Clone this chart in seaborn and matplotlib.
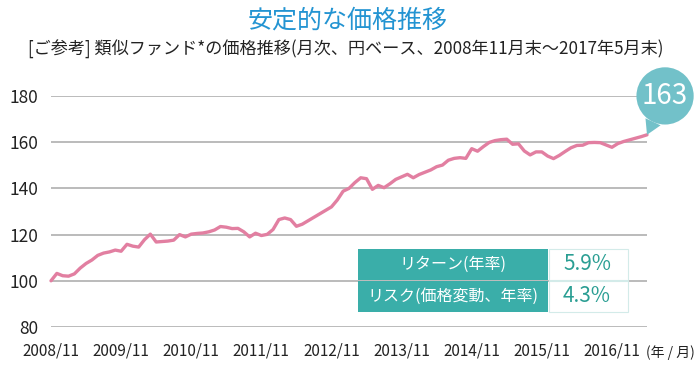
import matplotlib
matplotlib.use("Agg")
import matplotlib.pyplot as plt
from matplotlib.patches import Rectangle
import seaborn as sns

# 月次の価格推移(2008/11 = 100)
months = list(range(103))
values = [
    100, 103.2, 102.2, 102, 103, 105.5, 107.5, 109, 111, 112,
    112.5, 113.3, 112.8, 115.8, 115, 114.6, 117.8, 120.2, 116.8, 117,
    117.2, 117.6, 120, 119, 120.2, 120.5, 120.7, 121.2, 122, 123.5,
    123.2, 122.6, 122.7, 121.2, 119, 120.6, 119.6, 120.1, 122.2, 126.5,
    127.2, 126.5, 123.6, 124.5, 126, 127.5, 129, 130.5, 132, 135,
    138.8, 140, 142.5, 144.6, 144.2, 139.6, 141.3, 140.3, 142, 143.9,
    145, 146.1, 144.6, 146, 147, 148, 149.4, 150.1, 152.2, 153,
    153.3, 153, 157.2, 156.1, 158.1, 159.9, 160.7, 161.1, 161.3, 159.1,
    159.3, 156.2, 154.5, 155.8, 155.8, 154, 152.9, 154.3, 156, 157.6,
    158.6, 158.7, 159.8, 159.9, 159.8, 158.8, 157.8, 159.4, 160.3, 161,
    161.7, 162.4, 163.2,
]
tick_months = [0, 12, 24, 36, 48, 60, 72, 84, 96]
tick_labels = ["2008/11", "2009/11", "2010/11", "2011/11", "2012/11",
               "2013/11", "2014/11", "2015/11", "2016/11"]
y_ticks = [80, 100, 120, 140, 160, 180]

table_labels = ["リターン(年率)", "リスク(価格変動、年率)"]
table_values = ["5.9%", "4.3%"]

PINK = "#e27fa1"
TEAL = "#3aaea9"
BUBBLE = "#72c1c9"
GRID = "#a8a8a8"

sns.set_style("white")
plt.rcParams['font.family'] = ['Noto Sans CJK JP', 'DejaVu Sans']

W, H = 700, 367
fig = plt.figure(figsize=(W / 100, H / 100), dpi=100)


def fx(x):
    return x / W


def fy(y):
    return 1 - y / H


ax = fig.add_axes([fx(51), fy(327), fx(647) - fx(51), fy(96) - fy(327)])

sns.lineplot(x=months, y=values, ax=ax, color=PINK, linewidth=2.4,
             clip_on=False, zorder=3)

ax.set_xlim(0, 102)
ax.set_ylim(80, 180)
ax.set_yticks(y_ticks)
ax.set_xticks(tick_months)
ax.set_xticklabels(tick_labels)
ax.yaxis.grid(True, color=GRID, linewidth=1.1)
ax.xaxis.grid(False)
for s in ax.spines.values():
    s.set_visible(False)
ax.tick_params(axis="y", length=0, pad=9, labelsize=12.5, labelcolor="#222222")
ax.tick_params(axis="x", length=4, width=1, color=GRID, direction="out",
               pad=7, labelsize=11, labelcolor="#222222")
ax.set_xlabel("")
ax.set_ylabel("")

fig.text(fx(646), fy(353), "(年 / 月)", fontsize=10, color="#222222",
         ha="left", va="center")

# タイトル
fig.text(fx(348), fy(21), "安定的な価格推移", fontsize=18, color="#2394d2",
         ha="center", va="center")
fig.text(fx(28), fy(49),
         "[ご参考] 類似ファンド*の価格推移(月次、円ベース、2008年11月末～2017年5月末)",
         fontsize=12.3, color="#222222", ha="left", va="center")

# 最終値の吹き出し
ax.annotate(f"{values[-1]:.0f}", xy=(months[-1], values[-1]),
            xytext=(13, 28), textcoords="offset points",
            fontsize=20, color="white", ha="center", va="center",
            bbox=dict(boxstyle="circle,pad=0.2", fc=BUBBLE, ec="none"),
            arrowprops=dict(arrowstyle="wedge,tail_width=0.6,shrink_factor=0.5",
                            fc=BUBBLE, ec="none", shrinkA=0, shrinkB=0),
            zorder=5)

# リターン・リスク表
rows = [(249, 280), (281, 312)]
for (top, bot), lab, val in zip(rows, table_labels, table_values):
    fig.add_artist(Rectangle((fx(358), fy(bot)), fx(548) - fx(358), fy(top) - fy(bot),
                             transform=fig.transFigure, fc=TEAL, ec="none", zorder=4))
    fig.add_artist(Rectangle((fx(549), fy(bot)), fx(628) - fx(549), fy(top) - fy(bot),
                             transform=fig.transFigure, fc="white", ec="#d3ebe9",
                             lw=0.8, zorder=4))
    fig.text(fx(453), fy((top + bot) / 2), lab, fontsize=11.5, color="white",
             ha="center", va="center", zorder=5)
    fig.text(fx(587), fy((top + bot) / 2), val, fontsize=15, color="#2a9e93",
             ha="center", va="center", zorder=5)

fig.savefig("out.png", dpi=100)
